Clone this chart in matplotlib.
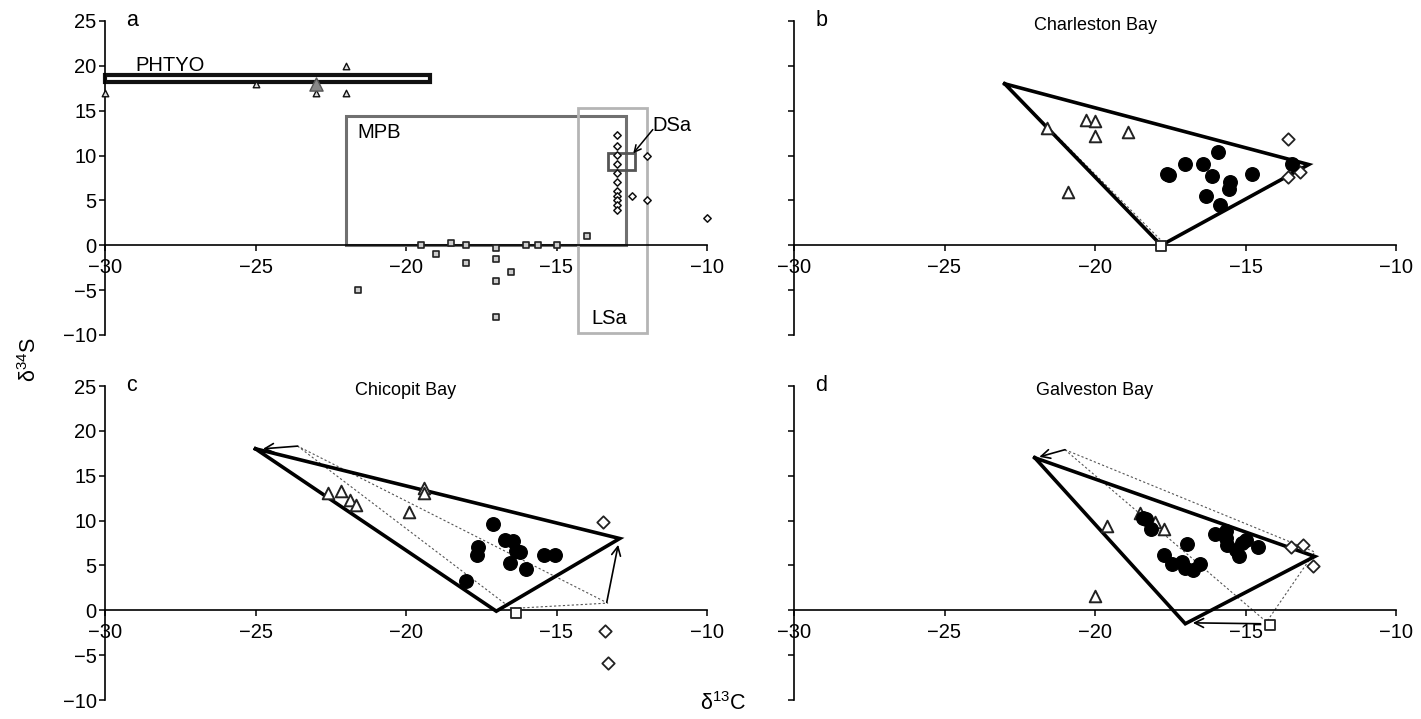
import numpy as np
import matplotlib.pyplot as plt
from matplotlib.patches import Rectangle

plt.rcParams['font.family'] = ['Liberation Sans', 'DejaVu Sans']
plt.rcParams['mathtext.fontset'] = 'custom'
plt.rcParams['mathtext.rm'] = 'Liberation Sans'

# ---- panel a: end-member source data ----
a_phyto_x = [-30, -25, -23, -22, -22]
a_phyto_y = [17, 18, 17, 20, 17]
a_phyto_mean = (-23, 18)
a_mpb_x = [-21.6, -19.5, -19.0, -18.5, -18.0, -18.0, -17.0, -17.0, -17.0, -17.0,
           -16.5, -16.0, -15.6, -15.0, -14.0]
a_mpb_y = [-5, 0, -1, 0.3, 0, -2, -0.3, -1.5, -4, -8, -3, 0, 0, 0, 1]
a_lsa_x = [-13, -13, -13, -13, -13, -13, -13, -13, -13, -13, -13, -12.5, -12, -12, -10]
a_lsa_y = [12.3, 11.1, 10.1, 9.1, 8.1, 7.0, 6.0, 5.5, 5.0, 4.5, 3.9, 5.5, 10, 5, 3]
# boxes: (x0, x1, y0, y1)
box_phyto = (-30, -19.2, 18.2, 19.0)
box_mpb = (-22, -12.7, 0, 14.4)
box_lsa = (-14.3, -12.0, -9.8, 15.3)
box_dsa = (-13.3, -12.4, 8.4, 10.3)

# ---- panel b: Charleston Bay ----
b_tri_x = [-21.6, -20.3, -20.0, -20.0, -18.9, -20.9]
b_tri_y = [13.1, 14.0, 13.8, 12.2, 12.6, 5.9]
b_cons_x = [-17.6, -17.55, -17.0, -16.4, -15.9, -16.1, -15.5, -15.55, -14.8, -16.3, -15.85, -13.45]
b_cons_y = [8.0, 7.8, 9.1, 9.1, 10.4, 7.7, 7.0, 6.3, 8.0, 5.5, 4.5, 9.1]
b_dia_x = [-13.6, -13.6, -13.2]
b_dia_y = [11.8, 7.6, 8.2]
b_sq_x = [-17.8]
b_sq_y = [-0.1]
b_poly = [(-23, 18), (-17.8, 0), (-12.9, 9)]
b_dot = [(-23, 18), (-17.7, 0.2), (-13.1, 8.5)]

# ---- panel c: Chicopit Bay ----
c_tri_x = [-22.6, -22.15, -21.85, -21.65, -19.9, -19.4, -19.4]
c_tri_y = [13.1, 13.3, 12.3, 11.7, 11.0, 13.6, 13.1]
c_cons_x = [-17.1, -16.7, -16.45, -17.6, -17.65, -16.35, -16.2, -16.55, -16.0, -15.4, -15.05, -18.0]
c_cons_y = [9.6, 7.8, 7.7, 7.0, 6.2, 6.6, 6.5, 5.3, 4.6, 6.2, 6.2, 3.3]
c_dia_x = [-13.45, -13.4, -13.3]
c_dia_y = [9.8, -2.3, -5.9]
c_sq_x = [-16.35]
c_sq_y = [-0.3]
c_poly = [(-25, 18), (-17, -0.1), (-12.9, 8)]
c_dot = [(-23.6, 18.3), (-16.5, 0.2), (-13.3, 0.8), (-23.6, 18.3)]
c_arrows = [((-23.6, 18.3), (-24.75, 18.0)), ((-13.33, 0.9), (-12.95, 7.3))]

# ---- panel d: Galveston Bay ----
d_tri_x = [-19.6, -18.5, -18.0, -17.7, -20.0]
d_tri_y = [9.4, 10.8, 9.8, 9.1, 1.6]
d_cons_x = [-18.4, -18.3, -18.15, -17.7, -17.45, -17.1, -17.0, -16.75, -16.5, -16.95,
            -16.0, -15.65, -15.65, -15.6, -15.3, -15.2, -15.1, -15.0, -14.6]
d_cons_y = [10.3, 10.2, 9.1, 6.2, 5.2, 5.4, 4.7, 4.5, 5.2, 7.4,
            8.5, 8.8, 8.1, 7.3, 6.7, 6.1, 7.5, 7.8, 7.0]
d_dia_x = [-13.5, -13.1, -12.75]
d_dia_y = [7.0, 7.3, 4.9]
d_sq_x = [-14.2]
d_sq_y = [-1.6]
d_poly = [(-22, 17), (-17, -1.5), (-12.7, 6)]
d_dot = [(-21.0, 17.9), (-14.3, -1.3), (-12.7, 6.5), (-21.0, 17.9)]
d_arrows = [((-21.0, 17.9), (-21.85, 17.1)), ((-14.5, -1.5), (-16.75, -1.4))]

xticks = [-30, -25, -20, -15, -10]
yticks = [-10, -5, 0, 5, 10, 15, 20, 25]

FS = 14.5
W, H = 1421, 719
fig = plt.figure(figsize=(W / 100, H / 100), dpi=100)


def make_axes(left_px, top_px, show_ylabels):
    w_px, h_px = 602, 314
    ax = fig.add_axes([left_px / W, 1 - (top_px + h_px) / H, w_px / W, h_px / H])
    ax.set_xlim(-30, -10)
    ax.set_ylim(-10, 25)
    ax.spines['top'].set_visible(False)
    ax.spines['right'].set_visible(False)
    ax.spines['bottom'].set_position(('data', 0))
    for s in ('left', 'bottom'):
        ax.spines[s].set_linewidth(1.2)
    ax.set_xticks(xticks)
    ax.set_yticks(yticks)
    ax.tick_params(direction='out', length=4, width=1.1, labelsize=FS, pad=2)
    ax.tick_params(axis='x', pad=5)
    if not show_ylabels:
        ax.set_yticklabels([])
    ax.patch.set_alpha(0)
    return ax


def mixing_panel(ax, tri_x, tri_y, cons_x, cons_y, dia_x, dia_y, sq_x, sq_y,
                 poly, dot, arrows=()):
    px, py = zip(*(poly + poly[:1]))
    ax.plot(px, py, color='black', lw=2.6, solid_joinstyle='miter', zorder=3)
    dx, dy = zip(*dot)
    ax.plot(dx, dy, color='#555555', lw=0.8, ls=(0, (2, 2)), zorder=2)
    for start, end in arrows:
        ax.annotate('', xy=end, xytext=start,
                    arrowprops=dict(arrowstyle='->', lw=1.2, color='black',
                                    shrinkA=0, shrinkB=0, mutation_scale=16))
    ax.scatter(tri_x, tri_y, marker='^', s=70, facecolor='white', edgecolor='#222222',
               linewidths=1.4, zorder=4, clip_on=False)
    ax.scatter(cons_x, cons_y, marker='o', s=95, color='black', zorder=5, clip_on=False)
    ax.scatter(dia_x, dia_y, marker='D', s=40, facecolor='white', edgecolor='#222222',
               linewidths=1.3, zorder=4, clip_on=False)
    ax.scatter(sq_x, sq_y, marker='s', s=55, facecolor='white', edgecolor='#222222',
               linewidths=1.3, zorder=4, clip_on=False)


# panel a
ax_a = make_axes(105, 21, True)
for (x0, x1, y0, y1), col, lw in [(box_phyto, '#111111', 3.0), (box_mpb, '#707070', 2.2),
                                  (box_lsa, '#b5b5b5', 2.0), (box_dsa, '#555555', 2.0)]:
    ax_a.add_patch(Rectangle((x0, y0), x1 - x0, y1 - y0, fill=False, edgecolor=col,
                             lw=lw, zorder=2, clip_on=False))
ax_a.scatter(a_phyto_x, a_phyto_y, marker='^', s=22, facecolor='#dddddd', edgecolor='#111111',
             linewidths=1.0, zorder=4, clip_on=False)
ax_a.scatter([a_phyto_mean[0]], [a_phyto_mean[1]], marker='^', s=90, facecolor='#888888',
             edgecolor='#555555', linewidths=1.0, zorder=5)
ax_a.scatter(a_mpb_x, a_mpb_y, marker='s', s=22, facecolor='#cccccc', edgecolor='#222222',
             linewidths=1.2, zorder=4, clip_on=False)
ax_a.scatter(a_lsa_x, a_lsa_y, marker='D', s=14, facecolor='white', edgecolor='#111111',
             linewidths=1.1, zorder=4, clip_on=False)
ax_a.text(-29.0, 20.0, 'PHTYO', fontsize=FS, va='center')
ax_a.text(-21.6, 12.6, 'MPB', fontsize=FS, va='center')
ax_a.text(-13.85, -8.2, 'LSa', fontsize=FS, va='center')
ax_a.text(-11.8, 13.4, 'DSa', fontsize=FS, va='center')
ax_a.annotate('', xy=(-12.45, 10.25), xytext=(-11.8, 12.9),
              arrowprops=dict(arrowstyle='->', lw=1.1, color='black', shrinkA=0, shrinkB=0,
                              mutation_scale=12))

# panel b
ax_b = make_axes(794, 21, False)
mixing_panel(ax_b, b_tri_x, b_tri_y, b_cons_x, b_cons_y, b_dia_x, b_dia_y,
             b_sq_x, b_sq_y, b_poly, b_dot)

# panel c
ax_c = make_axes(105, 386, True)
mixing_panel(ax_c, c_tri_x, c_tri_y, c_cons_x, c_cons_y, c_dia_x, c_dia_y,
             c_sq_x, c_sq_y, c_poly, c_dot, c_arrows)

# panel d
ax_d = make_axes(794, 386, False)
mixing_panel(ax_d, d_tri_x, d_tri_y, d_cons_x, d_cons_y, d_dia_x, d_dia_y,
             d_sq_x, d_sq_y, d_poly, d_dot, d_arrows)

# panel letters and titles
for ax, letter, title in [(ax_a, 'a', ''), (ax_b, 'b', 'Charleston Bay'),
                          (ax_c, 'c', 'Chicopit Bay'), (ax_d, 'd', 'Galveston Bay')]:
    ax.text(0.035, 1.0, letter, transform=ax.transAxes, fontsize=FS + 1, va='center')
    if title:
        ax.text(0.5, 0.985, title, transform=ax.transAxes, fontsize=FS - 1.5,
                ha='center', va='center')

fig.text(30 / W, 1 - 360 / H, r'δ$^{34}$S', fontsize=FS + 1, rotation=90,
         ha='center', va='center')
fig.text(723 / W, 1 - 704 / H, r'δ$^{13}$C', fontsize=FS + 1, ha='center', va='center')

fig.savefig('out.png', dpi=100)
